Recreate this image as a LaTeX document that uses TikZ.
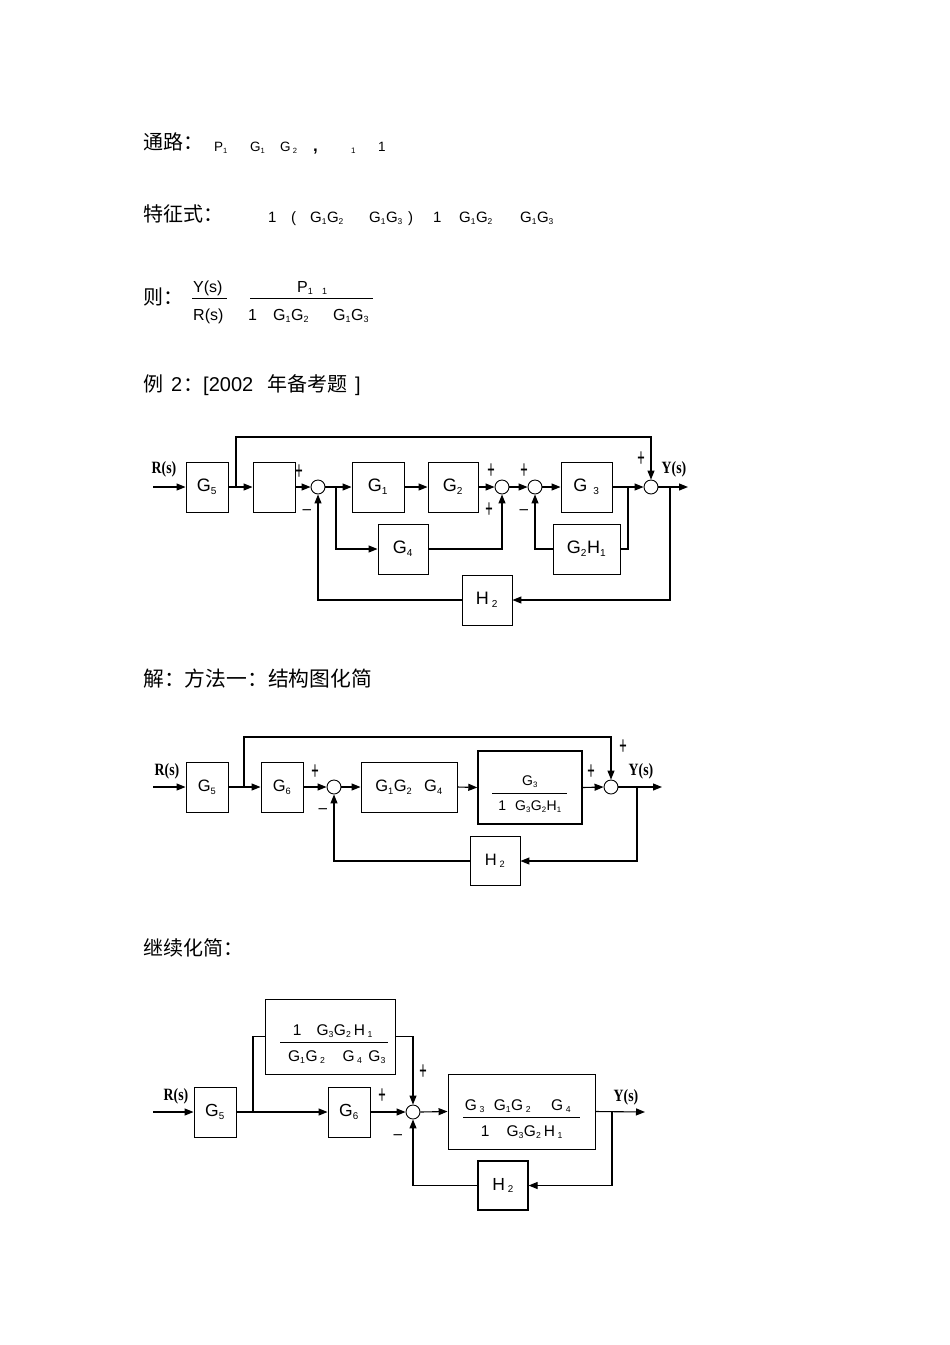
\documentclass[tikz,border=0pt]{standalone}
\usepackage{fontspec}
\usepackage{graphicx}
\setmainfont{Liberation Sans}
\newfontfamily\cjk{Noto Sans CJK SC}
\newfontfamily\sigfont{Liberation Serif}
\usetikzlibrary{arrows.meta}
\newcommand{\sbs}[1]{\textsubscript{\scalebox{0.8}{#1}}}
\newcommand{\Gx}[1]{G\sbs{#1}}
\newcommand{\pl}{\scalebox{0.75}[1.5]{+}}
\newcommand{\mi}{\scalebox{0.9}[1]{\textendash}}
\newcommand{\sigtxt}[1]{\scalebox{0.92}[1.15]{#1}}
\tikzset{
  blk/.style={draw, line width=0.9pt, inner sep=0pt},
  sumj/.style={draw, circle, minimum size=14pt, inner sep=0pt, line width=0.9pt},
  ln/.style={line width=1.1pt},
  arr/.style={ln, -{Triangle[length=9pt,width=7pt]}},
  sig/.style={font=\sigfont\bfseries\fontsize{15}{16}\selectfont, inner sep=0pt},
  sgn/.style={inner sep=0pt, font=\fontsize{17}{17}\selectfont},
  cn/.style={anchor=base west, inner sep=0pt, font=\cjk\fontsize{20}{22}\selectfont},
  tx/.style={anchor=base west, inner sep=0pt},
  frl/.style={line width=0.8pt},
}
\begin{document}
\begin{tikzpicture}[x=1pt,y=-1pt]
\useasboundingbox (0,0) rectangle (950,1345);
\fill[white] (0,0) rectangle (950,1345);

% ---------- text lines ----------
\node[cn] (t1) at (143,149) {通路：};
\begin{scope}[every node/.style={tx, font=\fontsize{13.5}{14}\selectfont}]
\node (p1) at (214,151) {P\sbs{1}};
\node (p2) at (250,151) {G\sbs{1}};
\node (p3) at (280,151) {G\,\sbs{2}};
\node (p4) at (313,151) {\fontsize{17}{17}\selectfont\bfseries ,};
\node (p5) at (351,153) {\fontsize{8}{8}\selectfont 1};
\node (p6) at (378,151) {1};
\end{scope}

\node[cn] (t2) at (143,221) {特征式：};
\begin{scope}[every node/.style={tx, font=\fontsize{15}{16}\selectfont}]
\node (q1) at (268,222) {1};
\node (q2) at (291,222) {(};
\node (q3) at (310,222) {G\sbs{1}G\sbs{2}};
\node (q4) at (369,222) {G\sbs{1}G\sbs{3}};
\node (q5) at (408,222) {)};
\node (q6) at (433,222) {1};
\node (q7) at (459,222) {G\sbs{1}G\sbs{2}};
\node (q8) at (520,222) {G\sbs{1}G\sbs{3}};
\end{scope}

\node[cn] (t3) at (143,304) {则：};
\begin{scope}[every node/.style={tx, font=\fontsize{16}{17}\selectfont}]
\node (f1) at (193,292) {Y(s)};
\node (f2) at (193,320) {R(s)};
\node (f3) at (297,292) {P\sbs{1}};
\node (f4) at (322,294) {\fontsize{9}{9}\selectfont 1};
\node (f5) at (248,320) {1};
\node (f6) at (273,320) {G\sbs{1}G\sbs{2}};
\node (f7) at (333,320) {G\sbs{1}G\sbs{3}};
\end{scope}
\draw[frl] (192,298) -- (227,298);
\draw[frl] (250,298) -- (373,298);

\node[cn] (t4a) at (143,391) {例};
\node[tx, font=\fontsize{20}{22}\selectfont] (t4b) at (171,391) {2};
\node[cn] (t4c) at (183,391) {：};
\node[tx, font=\fontsize{20}{22}\selectfont] (t4d) at (203,391) {[2002};
\node[cn] (t4e) at (267,391) {年备考题};
\node[tx, font=\fontsize{20}{22}\selectfont] (t4f) at (355,391) {]};

\node[cn, font=\cjk\fontsize{20.8}{22}\selectfont] (t5) at (143,686) {解：方法一：结构图化简};
\node[cn] (t6) at (143,955) {继续化简：};

% ---------- diagram 1 ----------
\begin{scope}[every node/.append style={font=\fontsize{18}{20}\selectfont}]
\node[sig] (r1) at (164,469) {\sigtxt{R(s)}};
\coordinate (in1) at (153,487);
\node[blk, minimum width=42pt, minimum height=50pt] (a5) at (207,487) {\Gx{5}};
\node[blk, minimum width=42pt, minimum height=50pt] (ax) at (274,487) {};
\node[sumj] (as1) at (318,487) {};
\node[blk, minimum width=52pt, minimum height=50pt] (a1) at (378,487) {\Gx{1}};
\node[blk, minimum width=50pt, minimum height=50pt] (a2) at (453,487) {\Gx{2}};
\node[sumj] (as2) at (502,487) {};
\node[sumj] (as3) at (535,487) {};
\node[blk, minimum width=51pt, minimum height=50pt] (a3) at (586.5,487) {G\hspace{6pt}\sbs{3}};
\node[sumj] (as4) at (651,487) {};
\coordinate (out1) at (688,487);
\node[blk, minimum width=50pt, minimum height=50pt] (a4) at (403,549) {\Gx{4}};
\node[blk, minimum width=67pt, minimum height=50pt] (agh) at (586.5,549) {G\sbs{2}H\sbs{1}};
\node[blk, minimum width=50pt, minimum height=50pt] (ah2) at (487,600) {H\,\sbs{2}};
\node[sig] (y1) at (674,469) {\sigtxt{Y(s)}};
\end{scope}
\coordinate (ab1) at (236,487);
\coordinate (at1) at (236,437);
\coordinate (ab2) at (336,487);
\coordinate (ab3) at (628,487);
\coordinate (ab4) at (670,487);
\draw[arr] (in1) -- (a5.west);
\draw[arr] (a5.east) -- (ax.west);
\draw[arr] (ab1) -- (at1) -| (as4.north);
\draw[arr] (ax.east) -- (as1.west);
\draw[arr] (as1.east) -- (a1.west);
\draw[arr] (ab2) |- (a4.west);
\draw[arr] (a1.east) -- (a2.west);
\draw[arr] (a2.east) -- (as2.west);
\draw[arr] (a4.east) -| (as2.south);
\draw[arr] (as2.east) -- (as3.west);
\draw[arr] (as3.east) -- (a3.west);
\draw[arr] (a3.east) -- (as4.west);
\draw[ln] (ab3) |- (agh.east);
\draw[arr] (agh.west) -| (as3.south);
\draw[arr] (as4.east) -- (out1);
\draw[arr] (ab4) |- (ah2.east);
\draw[arr] (ah2.west) -| (as1.south);
\node[sgn] (sa1) at (299,472) {\pl};
\node[sgn] (sa2) at (307,512) {\mi};
\node[sgn] (sa3) at (491,471) {\pl};
\node[sgn] (sa4) at (489,510) {\pl};
\node[sgn] (sa5) at (524,471) {\pl};
\node[sgn] (sa6) at (524,512) {\mi};
\node[sgn] (sa7) at (641,459) {\pl};

% ---------- diagram 2 ----------
\begin{scope}[every node/.append style={font=\fontsize{16.5}{18}\selectfont}]
\node[sig] (r2) at (167,771) {\sigtxt{R(s)}};
\coordinate (in2) at (153,787);
\node[blk, minimum width=42pt, minimum height=50pt] (b5) at (207,787) {\Gx{5}};
\node[blk, minimum width=42pt, minimum height=50pt] (b6) at (282,787) {\Gx{6}};
\node[sumj] (bs1) at (334,787) {};
\node[blk, minimum width=96pt, minimum height=50pt] (bg) at (409,787) {G\sbs{1}G\sbs{2}\hspace{12pt}G\sbs{4}};
\node[blk, line width=1.4pt, minimum width=104pt, minimum height=73pt] (bf) at (530,787.5) {};
\node[sumj] (bs2) at (611,787) {};
\coordinate (out2) at (662,787);
\node[sig] (y2) at (641,771) {\sigtxt{Y(s)}};
\node[blk, minimum width=50pt, minimum height=49pt] (bh2) at (495,861) {H\,\sbs{2}};
\end{scope}
\begin{scope}[every node/.style={inner sep=0pt, font=\fontsize{14}{15}\selectfont}]
\node (bn) at (530,782) {\Gx{3}};
\node (bd) at (530,807) {1\hspace{9pt}G\sbs{3}G\sbs{2}H\sbs{1}};
\end{scope}
\draw[frl] (492,793) -- (567,793);
\coordinate (bb1) at (244,787);
\coordinate (bt1) at (244,737);
\coordinate (bb2) at (637,787);
\draw[arr] (in2) -- (b5.west);
\draw[arr] (b5.east) -- (b6.west);
\draw[arr] (bb1) -- (bt1) -| (bs2.north);
\draw[arr] (b6.east) -- (bs1.west);
\draw[arr] (bs1.east) -- (bg.west);
\draw[arr] (bg.east) -- (bf.west);
\draw[arr] (bf.east) -- (bs2.west);
\draw[arr] (bs2.east) -- (out2);
\draw[arr] (bb2) |- (bh2.east);
\draw[arr] (bh2.west) -| (bs1.south);
\node[sgn] (sb1) at (315,772) {\pl};
\node[sgn] (sb2) at (323,811) {\mi};
\node[sgn] (sb3) at (591,772) {\pl};
\node[sgn] (sb4) at (623,747) {\pl};

% ---------- diagram 3 ----------
\begin{scope}[every node/.append style={font=\fontsize{17.5}{19}\selectfont}]
\node[sig] (r3) at (176,1096) {\sigtxt{R(s)}};
\coordinate (in3) at (153,1112);
\node[blk, minimum width=42pt, minimum height=50pt] (c5) at (215,1112) {\Gx{5}};
\node[blk, minimum width=130pt, minimum height=75pt] (ct) at (330,1036.5) {};
\node[blk, minimum width=42pt, minimum height=50pt] (c6) at (349,1112) {\Gx{6}};
\node[sumj] (cs1) at (413,1112) {};
\node[blk, minimum width=147pt, minimum height=75pt] (cf) at (521.5,1111.5) {};
\node[blk, line width=1.2pt, minimum width=50pt, minimum height=49pt] (ch2) at (503,1185.5) {H\,\sbs{2}};
\coordinate (out3) at (645,1112);
\node[sig] (y3) at (626,1097) {\sigtxt{Y(s)}};
\end{scope}
\begin{scope}[every node/.style={inner sep=0pt, font=\fontsize{15.5}{16}\selectfont}]
\node (cn1) at (333,1031) {1\hspace{15pt}G\sbs{3}G\sbs{2}\,H\,\sbs{1}};
\node (cd1) at (337,1057) {G\sbs{1}G\,\sbs{2}\hspace{17pt}G\,\sbs{4}\hspace{6pt}G\sbs{3}};
\node (cn2) at (518,1106) {G\,\sbs{3}\hspace{9pt}G\sbs{1}G\,\sbs{2}\hspace{20pt}G\,\sbs{4}};
\node (cd2) at (522,1132) {1\hspace{17pt}G\sbs{3}G\sbs{2}\,H\,\sbs{1}};
\end{scope}
\draw[frl] (280,1042) -- (388,1042);
\draw[frl] (463,1117) -- (580,1117);
\coordinate (cb1) at (253,1112);
\coordinate (cb2) at (612,1112);
\draw[arr] (in3) -- (c5.west);
\draw[arr] (c5.east) -- (c6.west);
\draw[ln] (cb1) |- (ct.west);
\draw[arr] (ct.east) -| (cs1.north);
\draw[arr] (c6.east) -- (cs1.west);
\draw[arr] (cs1.east) -- (cf.west);
\draw[arr] (cf.east) -- (out3);
\draw[arr] (cb2) |- (ch2.east);
\draw[arr] (ch2.west) -| (cs1.south);
\node[sgn] (sc1) at (382,1096) {\pl};
\node[sgn] (sc2) at (423,1072) {\pl};
\node[sgn] (sc3) at (398,1137) {\mi};
\end{tikzpicture}
\end{document}
